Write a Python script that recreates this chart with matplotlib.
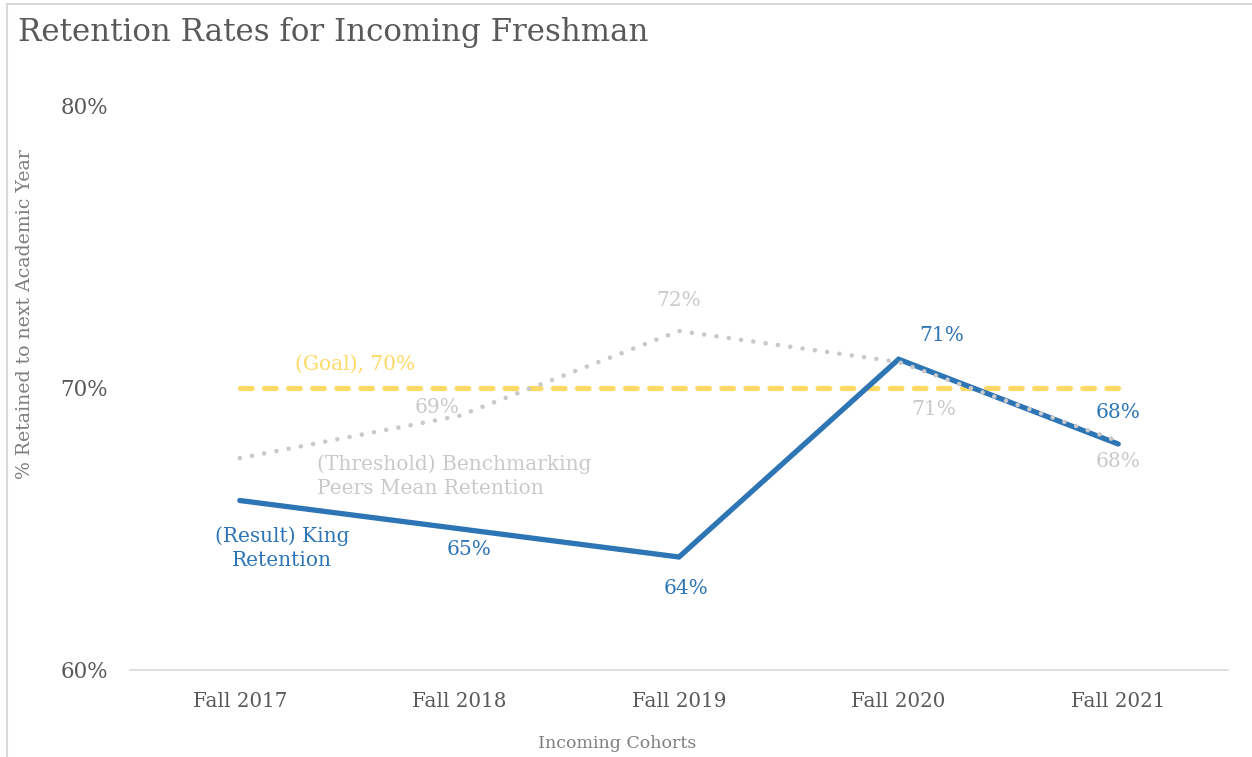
import matplotlib
matplotlib.use("Agg")
import matplotlib.pyplot as plt
from matplotlib.lines import Line2D

categories = ["Fall 2017", "Fall 2018", "Fall 2019", "Fall 2020", "Fall 2021"]
result = [66, 65, 64, 71, 68]
threshold = [67.5, 69, 72, 70.9, 68.1]
goal = [70, 70, 70, 70, 70]
yticks = [60, 70, 80]

BLUE = "#2E75B6"
GRAY = "#C9C9C9"
GOLD = "#FFD966"
TXT = "#595959"
FONT = "DejaVu Serif"

W, H = 1252, 757
fig = plt.figure(figsize=(W / 100, H / 100), dpi=100)
ax = fig.add_axes([130 / W, 1 - 670 / H, (1228 - 130) / W, (670 - 105) / H])

x = list(range(len(categories)))
ax.plot(x, goal, color=GOLD, lw=3.8, ls=(0, (2.2, 2.36)), dash_capstyle="round", zorder=2)
ax.plot(x, result, color=BLUE, lw=3.8, solid_capstyle="round", solid_joinstyle="miter", zorder=3)
ax.plot(x, threshold, color=GRAY, lw=3.3, ls=(0, (0.01, 2.7)), dash_capstyle="round", zorder=4)

ax.set_xlim(-0.5, len(categories) - 0.5)
ax.set_ylim(60, 80)
ax.set_yticks(yticks)
ax.set_yticklabels([f"{v}%" for v in yticks])
ax.set_xticks(x)
ax.set_xticklabels(categories)
ax.tick_params(axis="x", length=0, labelsize=14.3, colors=TXT, pad=16)
ax.tick_params(axis="y", length=0, labelsize=15.5, colors=TXT, pad=16)
for lab in ax.get_xticklabels() + ax.get_yticklabels():
    lab.set_fontfamily(FONT)
for s in ["top", "right", "left"]:
    ax.spines[s].set_visible(False)
ax.spines["bottom"].set_color("#D9D9D9")
ax.spines["bottom"].set_linewidth(1.2)

def lab(text, xi, yi, dx, dy, color, ha="center"):
    ax.annotate(text, (xi, yi), xytext=(dx, dy), textcoords="offset pixels",
                ha=ha, va="center", color=color, fontsize=14.5, family=FONT,
                linespacing=1.35)

# Result labels
lab("(Result) King\nRetention", 0, result[0], 42, -48, BLUE)
lab(f"{result[1]}%", 1, result[1], 10, -21, BLUE)
lab(f"{result[2]}%", 2, result[2], 7, -31, BLUE)
lab(f"{result[3]:.0f}%", 3, result[3], 43, 24, BLUE)
lab(f"{result[4]}%", 4, result[4], 0, 32, BLUE)

# Threshold labels
lab("(Threshold) Benchmarking\nPeers Mean Retention", 0, threshold[0], 77, -18, GRAY, ha="left")
lab(f"{threshold[1]:.0f}%", 1, threshold[1], -22, 8, GRAY)
lab(f"{threshold[2]:.0f}%", 2, threshold[2], 0, 30, GRAY)
lab(f"{threshold[3]:.0f}%", 3, threshold[3], 35, -47, GRAY)
lab(f"{threshold[4]:.0f}%", 4, threshold[4], 0, -20, GRAY)

# Goal label
lab(f"(Goal), {goal[0]}%", 0, goal[0], 115, 23, GOLD)

fig.text(18 / W, 1 - 33 / H, "Retention Rates for Incoming Freshman", fontsize=22.2,
         color=TXT, family=FONT, ha="left", va="center")
fig.text(25 / W, 1 - 314 / H, "% Retained to next Academic Year", fontsize=13.6,
         color="#7F7F7F", family=FONT, rotation=90, ha="center", va="center")
fig.text(617 / W, 1 - 743 / H, "Incoming Cohorts", fontsize=12.5,
         color="#7F7F7F", family=FONT, ha="center", va="center")

# chart border (left and top visible)
fig.add_artist(Line2D([7 / W, 7 / W], [0, 1 - 3.5 / H], transform=fig.transFigure,
                      color="#D9D9D9", lw=1.5))
fig.add_artist(Line2D([7 / W, 1], [1 - 3.5 / H, 1 - 3.5 / H], transform=fig.transFigure,
                      color="#D9D9D9", lw=1.5))

fig.savefig("out.png", dpi=100)
